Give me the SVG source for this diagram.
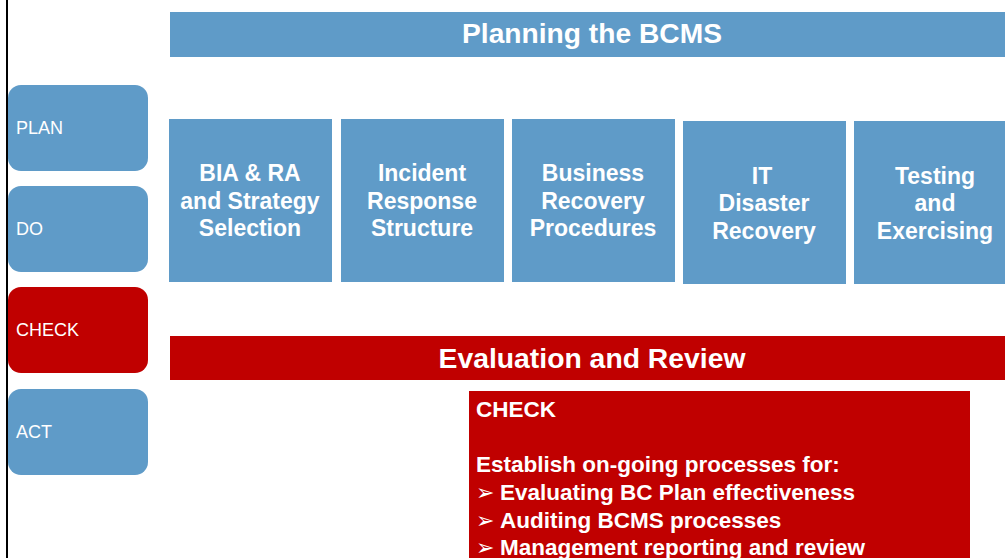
<svg xmlns="http://www.w3.org/2000/svg" width="1005" height="558" viewBox="0 0 1005 558">
<style>
.blue{fill:#5F9BC8}
.red{fill:#C00000}
.side{font-family:"Liberation Sans",Arial,sans-serif;font-size:18px;fill:#fff}
.box{font-family:"Liberation Sans",Arial,sans-serif;font-size:23px;font-weight:bold;fill:#fff;text-anchor:middle}
.bar{font-family:"Liberation Sans",Arial,sans-serif;font-size:27px;font-weight:bold;fill:#fff;text-anchor:middle}
.note{font-family:"Liberation Sans",Arial,sans-serif;font-size:22.5px;font-weight:bold;fill:#fff}
.bul{font-family:"DejaVu Sans",sans-serif;font-size:22px;font-weight:normal}
</style>
<rect width="1005" height="558" fill="#fff"/>
<line x1="7" y1="0" x2="7" y2="558" stroke="#000" stroke-width="2"/>
<g id="plan"><rect class="blue" x="8" y="85" width="140" height="86" rx="13"/><text class="side" x="16" y="134">PLAN</text></g>
<g id="do"><rect class="blue" x="8" y="186" width="140" height="86" rx="13"/><text class="side" x="16" y="235">DO</text></g>
<g id="check"><rect class="red" x="8" y="287" width="140" height="86" rx="13"/><text class="side" x="16" y="336">CHECK</text></g>
<g id="act"><rect class="blue" x="8" y="389" width="140" height="86" rx="13"/><text class="side" x="16" y="438">ACT</text></g>
<g id="planning"><rect class="blue" x="170" y="12" width="835" height="45"/><text class="bar" x="592" y="43" textLength="260" lengthAdjust="spacingAndGlyphs">Planning the BCMS</text></g>
<g id="bia"><rect class="blue" x="169" y="119" width="163" height="163"/><text class="box" x="250" y="181">BIA &amp; RA</text><text class="box" x="250" y="209">and Strategy</text><text class="box" x="250" y="236">Selection</text></g>
<g id="incident"><rect class="blue" x="341" y="119" width="163" height="163"/><text class="box" x="422" y="181">Incident</text><text class="box" x="422" y="209">Response</text><text class="box" x="422" y="236">Structure</text></g>
<g id="business"><rect class="blue" x="512" y="119" width="163" height="163"/><text class="box" x="593" y="181">Business</text><text class="box" x="593" y="209">Recovery</text><text class="box" x="593" y="236">Procedures</text></g>
<g id="itdr"><rect class="blue" x="683" y="121" width="163" height="163"/><text class="box" x="762" y="184">IT</text><text class="box" x="764" y="211">Disaster</text><text class="box" x="764" y="239">Recovery</text></g>
<g id="testing"><rect class="blue" x="854" y="121" width="151" height="163"/><text class="box" x="935" y="184">Testing</text><text class="box" x="935" y="211">and</text><text class="box" x="935" y="239">Exercising</text></g>
<g id="evaluation"><rect class="red" x="170" y="336" width="835" height="44"/><text class="bar" x="592" y="368" textLength="307" lengthAdjust="spacingAndGlyphs">Evaluation and Review</text></g>
<g id="checknote"><rect class="red" x="469" y="391" width="501" height="167"/>
<text class="note" x="476" y="417">CHECK</text>
<text class="note" x="476" y="472">Establish on-going processes for:</text>
<text class="note" x="476" y="500"><tspan class="bul">➢</tspan><tspan x="500">Evaluating BC Plan effectiveness</tspan></text>
<text class="note" x="476" y="528"><tspan class="bul">➢</tspan><tspan x="500">Auditing BCMS processes</tspan></text>
<text class="note" x="476" y="555"><tspan class="bul">➢</tspan><tspan x="500">Management reporting and review</tspan></text>
</g>
</svg>
